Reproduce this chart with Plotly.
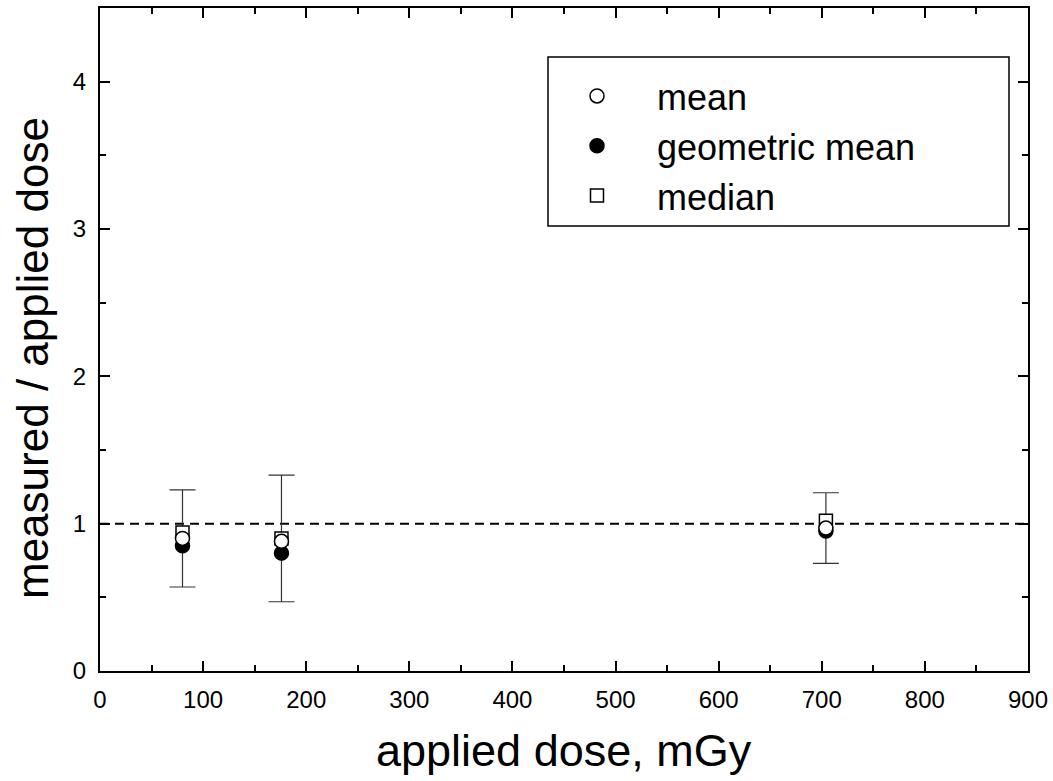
import plotly.graph_objects as go

dose = [80, 176, 704]
mean_vals = [0.90, 0.88, 0.97]
geo_mean_vals = [0.85, 0.80, 0.95]
median_vals = [0.94, 0.90, 1.02]
err_upper = [1.23, 1.33, 1.21]
err_lower = [0.57, 0.47, 0.73]

x_title = "applied dose, mGy"
y_title = "measured / applied dose"

err_plus = [u - m for u, m in zip(err_upper, mean_vals)]
err_minus = [m - l for l, m in zip(err_lower, mean_vals)]

FONT = "Liberation Sans, Arial"

fig = go.Figure()

# reference line at 1
fig.add_trace(go.Scatter(x=[0, 900], y=[1, 1], mode="lines",
                         line=dict(color="black", width=2, dash="9px,6px"),
                         showlegend=False, hoverinfo="skip"))

# error bars (behind markers)
fig.add_trace(go.Scatter(x=dose, y=mean_vals, mode="markers",
                         marker=dict(size=1, color="rgba(0,0,0,0)"),
                         error_y=dict(type="data", symmetric=False, array=err_plus,
                                      arrayminus=err_minus, color="#333333",
                                      thickness=1.2, width=13),
                         showlegend=False, hoverinfo="skip"))

fig.add_trace(go.Scatter(x=dose, y=median_vals, mode="markers", name="median",
                         marker=dict(symbol="square", size=13, color="white",
                                     line=dict(color="black", width=1.5)),
                         legendrank=3))
fig.add_trace(go.Scatter(x=dose, y=geo_mean_vals, mode="markers", name="geometric mean",
                         marker=dict(symbol="circle", size=14, color="black",
                                     line=dict(color="black", width=1.5)),
                         legendrank=2))
fig.add_trace(go.Scatter(x=dose, y=mean_vals, mode="markers", name="mean",
                         marker=dict(symbol="circle", size=14, color="white",
                                     line=dict(color="black", width=1.5)),
                         legendrank=1))

axis_common = dict(showline=True, linecolor="black", linewidth=2, mirror="allticks",
                   ticks="inside", ticklen=10, tickwidth=2, tickcolor="black",
                   showgrid=False, zeroline=False, automargin=False,
                   tickfont=dict(family=FONT, size=24, color="black"))

fig.update_xaxes(range=[0, 900], tickvals=[0, 100, 200, 300, 400, 500, 600, 700, 800, 900],
                 minor=dict(ticks="inside", ticklen=6, tickwidth=2, tickcolor="black", dtick=50),
                 ticklabelstandoff=6, **axis_common)
fig.update_yaxes(range=[0, 4.5], tickvals=[0, 1, 2, 3, 4],
                 minor=dict(ticks="inside", ticklen=6, tickwidth=2, tickcolor="black", dtick=0.5),
                 ticklabelstandoff=7, **axis_common)

# axis titles
fig.add_annotation(text=x_title, xref="paper", yref="paper",
                   x=(564 - 100) / 928, y=(671 - 750) / 663, xanchor="center", yanchor="middle",
                   showarrow=False, font=dict(family=FONT, size=45, color="black"))
fig.add_annotation(text=y_title, xref="paper", yref="paper", textangle=-90,
                   x=(32 - 100) / 928, y=(671 - 358) / 663, xanchor="center", yanchor="middle",
                   showarrow=False, font=dict(family=FONT, size=44, color="black"))

# legend frame
fig.add_shape(type="rect", xref="paper", yref="paper",
              x0=(548 - 100) / 928, x1=(1009 - 100) / 928,
              y0=(671 - 226) / 663, y1=(671 - 57) / 663,
              line=dict(color="black", width=1.5), fillcolor="rgba(0,0,0,0)")

fig.update_layout(
    width=1053, height=781,
    margin=dict(l=100, r=25, t=8, b=110),
    plot_bgcolor="white", paper_bgcolor="white",
    font=dict(family=FONT, color="black"),
    legend=dict(x=(537 - 100) / 928, y=(671 - 66) / 663, xanchor="left", yanchor="top",
                bgcolor="rgba(0,0,0,0)", borderwidth=0,
                font=dict(family=FONT, size=36, color="black"),
                itemwidth=110),
)

fig.write_html("out.html")
